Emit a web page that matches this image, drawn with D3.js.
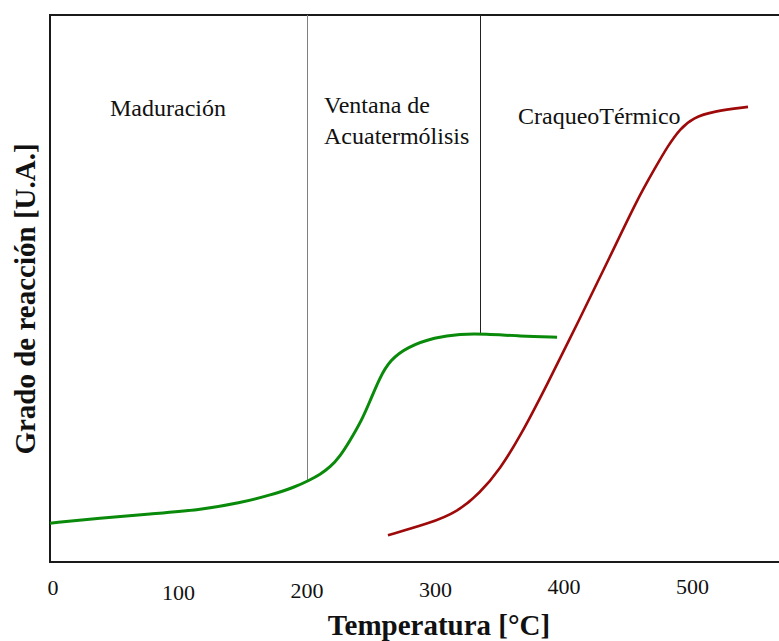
<!DOCTYPE html>
<html>
<head>
<meta charset="utf-8">
<script src="https://cdn.jsdelivr.net/npm/d3@7"></script>
<style>
  body { margin: 0; background: #fff; }
  svg { display: block; font-family: "Liberation Serif", "Times New Roman", serif; }
</style>
</head>
<body>
<div id="chart"></div>
<script>
'use strict';

// temperatures (°C) and reaction degree (arbitrary units, 0-100)
var greenTemp = [0, 38.9, 77.8, 116.7, 147.9, 171.2, 190.7, 202.3, 210.1, 217.9, 225.7, 233.5, 242.8, 249, 256.8, 264.6, 277.8, 299.6, 319.1, 338.5, 365.8, 394.6];
var greenVal  = [7.1, 8.0, 8.8, 9.5, 10.8, 12.2, 13.7, 15.0, 16.0, 17.3, 19.3, 22.2, 26.0, 29.4, 33.8, 36.9, 39.3, 41.1, 41.7, 41.7, 41.3, 41.1];

var redTemp = [263, 295.7, 316.7, 334.6, 350.2, 365.8, 386.8, 412.5, 435.8, 456.8, 470.8, 480.9, 490.3, 500.4, 516, 543.2];
var redVal  = [4.9, 7.1, 9.1, 12.6, 17.0, 22.9, 32.4, 44.6, 55.8, 66.2, 72.0, 76.1, 79.2, 81.2, 82.4, 83.2];

var xTicks = [0, 100, 200, 300, 400, 500];
var xTickShift = [0, 5, 3, 2, -1, -1];   // the labels sit slightly staggered

var dividerTemp = [200, 335];
var dividerEnd = [14.8, 41.7];
var dividerColor = ["#808080", "#222"];

var regionLabels = [
    {lines: ["Maduración"], x: 110, y: 116},
    {lines: ["Ventana de", "Acuatermólisis"], x: 324, y: 113},
    {lines: ["CraqueoTérmico"], x: 518, y: 124}
];

var width = 779, height = 641;
var plotLeft = 50, plotTop = 15, plotBottom = 562;

var svg = d3.select("#chart")
    .append("svg")
    .attr("width", width)
    .attr("height", height);

var x = d3.scaleLinear().domain([0, 100]).range([plotLeft, plotLeft + 128.5]);
var y = d3.scaleLinear().domain([0, 100]).range([plotBottom, plotBottom - 547]);

// frame: top, left, bottom
svg.append("path")
    .attr("d", "M" + (width + 5) + "," + plotTop + "H" + plotLeft + "V" + plotBottom + "H" + (width + 5))
    .style("fill", "none")
    .style("stroke", "#1a1a1a")
    .style("stroke-width", 2);

// region dividers
svg.selectAll("line.divider")
    .data(dividerTemp)
    .enter()
    .append("line")
    .attr("class", "divider")
    .attr("x1", function (d) { return Math.round(x(d)) + 0.5; })
    .attr("x2", function (d) { return Math.round(x(d)) + 0.5; })
    .attr("y1", plotTop)
    .attr("y2", function (d, i) { return y(dividerEnd[i]); })
    .style("stroke", function (d, i) { return dividerColor[i]; })
    .style("stroke-width", 1);

var line = d3.line()
    .x(function (d) { return x(d[0]); })
    .y(function (d) { return y(d[1]); })
    .curve(d3.curveBasis);

svg.append("path")
    .datum(d3.zip(greenTemp, greenVal))
    .attr("d", line)
    .style("fill", "none")
    .style("stroke", "#0a8a0a")
    .style("stroke-width", 3);

svg.append("path")
    .datum(d3.zip(redTemp, redVal))
    .attr("d", line)
    .style("fill", "none")
    .style("stroke", "#9e0a0a")
    .style("stroke-width", 2.6);

// tick labels
svg.selectAll("text.tick")
    .data(xTicks)
    .enter()
    .append("text")
    .attr("class", "tick")
    .attr("x", function (d) { return d === 0 ? x(d) + 3 : x(d); })
    .attr("y", function (d, i) { return 595 + xTickShift[i]; })
    .style("text-anchor", "middle")
    .style("font-size", "22px")
    .style("fill", "#111")
    .text(function (d) { return d; });

// region labels
regionLabels.forEach(function (r) {
    var t = svg.append("text")
        .attr("x", r.x)
        .attr("y", r.y)
        .style("font-size", "24px")
        .style("fill", "#111");
    r.lines.forEach(function (s, i) {
        t.append("tspan")
            .attr("x", r.x)
            .attr("dy", i === 0 ? 0 : 31)
            .text(s);
    });
});

// axis titles
svg.append("text")
    .attr("x", 439)
    .attr("y", 635)
    .style("text-anchor", "middle")
    .style("font-size", "29px")
    .style("font-weight", "bold")
    .style("fill", "#111")
    .text("Temperatura [°C]");

svg.append("text")
    .attr("transform", "translate(35,299) rotate(-90)")
    .style("text-anchor", "middle")
    .style("font-size", "29px")
    .style("font-weight", "bold")
    .style("fill", "#111")
    .text("Grado de reacción [U.A.]");
</script>
</body>
</html>
